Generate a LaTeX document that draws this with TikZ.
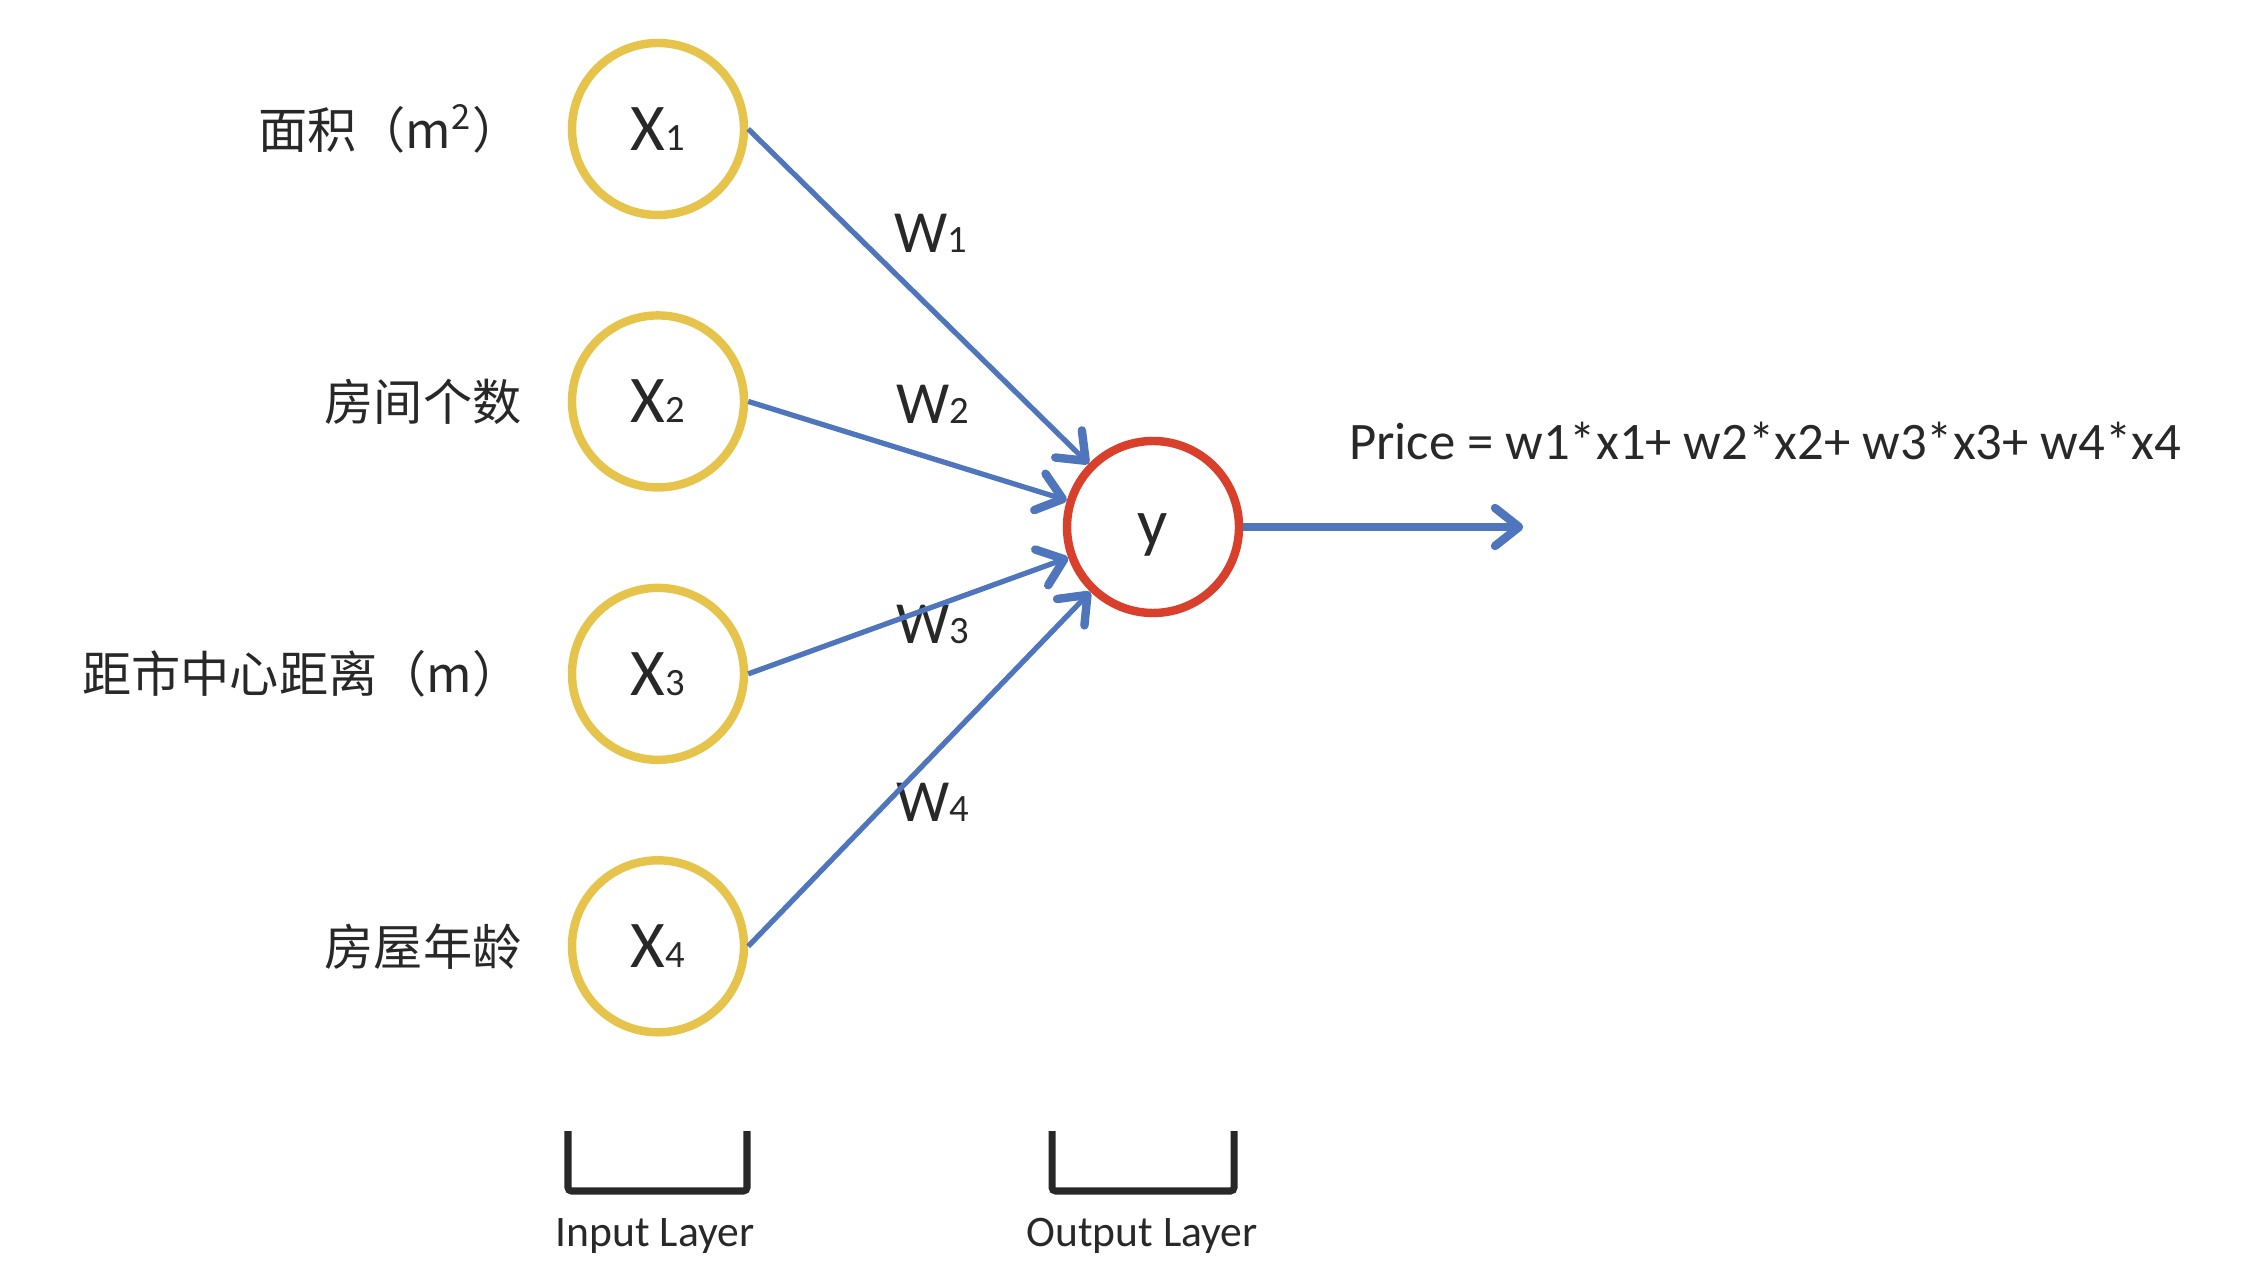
\documentclass[tikz,border=0pt]{standalone}
\usepackage{fontspec}
\setmainfont{Carlito}
\newfontfamily\cjk{Noto Sans CJK SC}
\usetikzlibrary{positioning, arrows.meta}
\definecolor{ringyellow}{RGB}{230,196,76}
\definecolor{ringred}{RGB}{216,64,44}
\definecolor{wireblue}{RGB}{79,117,188}
\definecolor{inkgray}{RGB}{40,40,40}
\newcommand{\idx}[1]{{\fontsize{11}{11}\selectfont #1}}

\begin{document}
\begin{tikzpicture}[
				node distance=0.92cm, very thin,
				>={Straight Barb[length=2.4mm, width=3.8mm, round, line width=2.4pt]},
				inp/.style={circle, draw=ringyellow, line width=2.4pt, minimum size=1.72cm, inner sep=0pt, font=\fontsize{19}{19}\selectfont, text=inkgray},
				outp/.style={inp, draw=ringred, text height=12.5pt, text depth=2pt},
				feat/.style={font=\cjk\fontsize{14}{14}\selectfont, text=inkgray, inner sep=0pt},
				wlab/.style={font=\fontsize{17}{17}\selectfont, text=inkgray, inner sep=0pt},
				wire/.style={->, color=wireblue, line width=1.5pt},
				layerbox/.style={draw=inkgray, line width=2pt, rounded corners=1pt},
				layer/.style={font=\fontsize{12.4}{12.4}\selectfont, text=inkgray, inner sep=0pt}
				]
				\useasboundingbox (0,0) rectangle (22.44,-12.80);
				% input layer
				\node[inp] (x1) at (6.58,-1.29) {X\idx{1}};
				\node[inp] (x2) [below=of x1] {X\idx{2}};
				\node[inp] (x3) [below=of x2] {X\idx{3}};
				\node[inp] (x4) [below=of x3] {X\idx{4}};
				\node[feat] (f1) [left=0.46cm of x1] {面积（m\textsuperscript{2}）};
				\node[feat] (f2) [left=0.46cm of x2] {房间个数};
				\node[feat] (f3) [left=0.46cm of x3] {距市中心距离（m）};
				\node[feat] (f4) [left=0.46cm of x4] {房屋年龄};
				% output layer
				\node[outp] (y) at (11.53,-5.27) {y};
				\coordinate[right=2.8cm of y] (out);
				\node[wlab] (w1) at (9.31,-2.33) {W\idx{1}};
				\node[wlab] (w2) at (9.33,-4.04) {W\idx{2}};
				\node[wlab] (w3) at (9.33,-6.24) {W\idx{3}};
				\node[wlab] (w4) at (9.33,-8.02) {W\idx{4}};
				\path[wire]
				(x1.east) edge (y)
				(x2.east) edge (y)
				(x3.east) edge (y)
				(x4.east) edge (y);
				\draw[wire, line width=2.2pt] (y) -- (out);
				\node[font=\fontsize{15}{15}\selectfont, text=inkgray, inner sep=0pt] (price) at (17.65,-4.41) {Price = w1*x1+ w2*x2+ w3*x3+ w4*x4};
				% layer brackets
				\draw[layerbox] (5.68,-11.31) |- (7.47,-11.91) -- (7.47,-11.31);
				\draw[layerbox] (10.52,-11.31) |- (12.34,-11.91) -- (12.34,-11.31);
				\node[layer] (inlab) at (6.55,-12.36) {Input Layer};
				\node[layer] (outlab) at (11.42,-12.36) {Output Layer};
			\end{tikzpicture}
\end{document}
